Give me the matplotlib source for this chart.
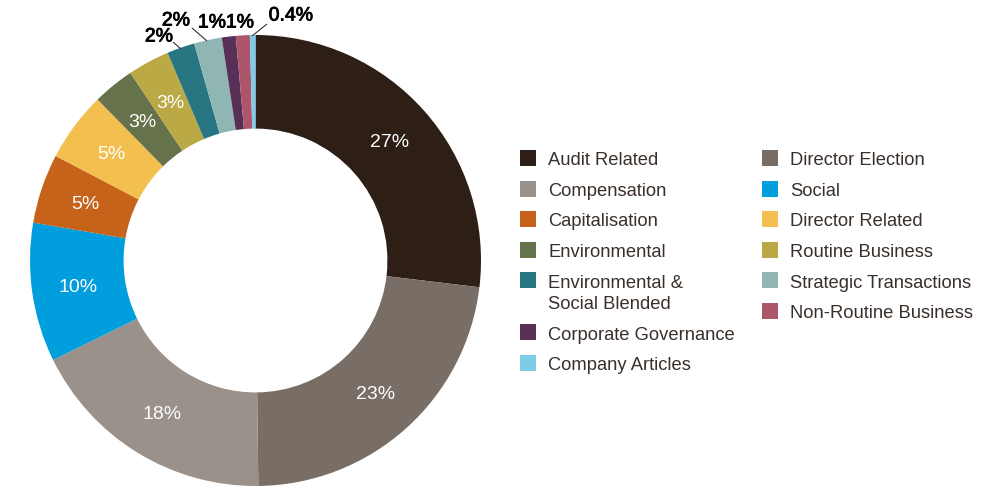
import matplotlib
matplotlib.use("Agg")
import matplotlib.pyplot as plt
from matplotlib.patches import Rectangle
import matplotlib.patheffects as pe
import numpy as np

# Share of votes by proposal category (clockwise from 12 o'clock)
categories = [
    "Audit Related", "Director Election", "Compensation", "Social",
    "Capitalisation", "Director Related", "Environmental", "Routine Business",
    "Environmental &\nSocial Blended", "Strategic Transactions",
    "Corporate Governance", "Non-Routine Business", "Company Articles",
]
values = [27, 23, 18, 10, 5, 5, 3, 3, 2, 2, 1, 1, 0.4]
labels = ["27%", "23%", "18%", "10%", "5%", "5%", "3%", "3%",
          "2%", "2%", "1%", "1%", "0.4%"]
colors = [
    "#2d1e16", "#796e65", "#9a918a", "#009edc", "#c6621a", "#f3bf4e",
    "#66724b", "#bba946", "#277682", "#90b6b4", "#572f57", "#ac556b", "#7ecbea",
]

# Legend layout: left column then right column
legend_left = [0, 2, 4, 6, 8, 10, 12]
legend_right = [1, 3, 5, 7, 9, 11]

W, H = 1001, 489
CX, CY, R = 255.5, 261.5, 225.5
RING = 0.415

fig = plt.figure(figsize=(W / 100, H / 100), dpi=100)
ax = fig.add_axes([0, 0, 1, 1])

wedges, _ = ax.pie(values, colors=colors, startangle=90, counterclock=False,
                   radius=1.0, wedgeprops=dict(width=RING, linewidth=0))
ax.set_xlim((0 - CX) / R, (W - CX) / R)
ax.set_ylim((CY - H) / R, (CY - 0) / R)
ax.set_aspect("auto")
ax.axis("off")

FONT = "Liberation Sans"
TEXT_COL = "#3a302b"


def px(x, y):
    """Pixel position (from the top-left) to data coordinates."""
    return (x - CX) / R, (CY - y) / R


# Mid-angle of each wedge
total = sum(values)
start = 90.0
mids = []
for v in values:
    sweep = 360.0 * v / total
    mids.append(np.deg2rad(start - sweep / 2))
    start -= sweep

# Percent labels inside the larger wedges
for i in range(8):
    r = 0.795
    ax.text(r * np.cos(mids[i]), r * np.sin(mids[i]), labels[i],
            ha="center", va="center", color="white", fontsize=14,
            family=FONT)

# Outside labels for the thin wedges, with leader lines where needed
outside = {
    8: ((159, 38), [(173, 43), (181, 50)]),
    9: ((176, 22), [(192, 29), (207, 42)]),
    10: ((212, 24), None),
    11: ((240, 24), None),
    12: ((291, 17), [(267, 25), (252, 37)]),
}
heavier = [pe.withStroke(linewidth=0.6, foreground="#000000")]
for i, ((tx, ty), line) in outside.items():
    x, y = px(tx, ty)
    ax.text(x, y, labels[i], ha="center", va="center", color="#000000",
            fontsize=14, family=FONT, path_effects=heavier)
    if line:
        (x0, y0), (x1, y1) = px(*line[0]), px(*line[1])
        ax.plot([x0, x1], [y0, y1], color="#3a302b", lw=0.8,
                solid_capstyle="butt")


# Legend drawn as two columns of swatches and labels
def fig_xy(x, y):
    return x / W, 1 - y / H


def draw_column(indices, x_box, x_text, y0, step=30.5, line_gap=21.5):
    y = y0
    for i in indices:
        bx, by = fig_xy(x_box, y + 8)
        fig.add_artist(Rectangle((bx, by), 16 / W, 16 / H, facecolor=colors[i],
                                 edgecolor="none", transform=fig.transFigure))
        lines = categories[i].split("\n")
        for k, line in enumerate(lines):
            tx, ty = fig_xy(x_text, y + 6.5 + k * line_gap)
            fig.text(tx, ty, line, ha="left", va="baseline",
                     color=TEXT_COL, fontsize=13.2, family=FONT)
        y += step + line_gap * (len(lines) - 1)


draw_column(legend_left, 520, 548, 159)
draw_column(legend_right, 762, 790, 159)

fig.savefig("out.png", dpi=100)
